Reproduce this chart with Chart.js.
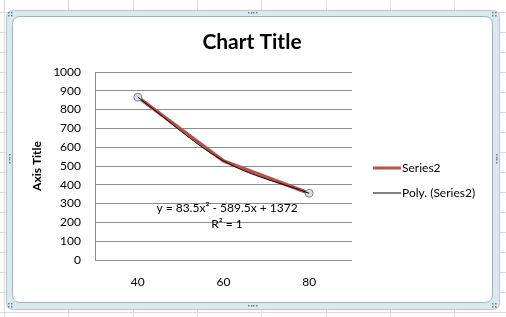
<!DOCTYPE html>
<html>
<head>
<meta charset="utf-8">
<script src="https://cdn.jsdelivr.net/npm/chart.js@4"></script>
<style>
html,body{margin:0;padding:0;background:#fff;}
#wrap{width:506px;height:317px;position:relative;}
</style>
</head>
<body>
<div id="wrap"><canvas id="c" width="506" height="317"></canvas></div>
<script>
// ---- data ----
const categories = ['40', '60', '80'];
const series2Values = [866, 527, 355];
const polyTrendValues = [866, 527, 355];
const yTickMin = 0;
const yTickMax = 1000;
const yTickStep = 100;
const chartTitle = 'Chart Title';
const yAxisTitle = 'Axis Title';
const seriesName = 'Series2';
const trendName = 'Poly. (Series2)';
const equationText = 'y = 83.5x\u00B2 - 589.5x + 1372';
const r2Text = 'R\u00B2 = 1';

const FONT = 'Lato, "Open Sans", sans-serif';

function roundRect(ctx, x, y, w, h, r) {
  ctx.beginPath();
  ctx.moveTo(x + r, y);
  ctx.lineTo(x + w - r, y);
  ctx.quadraticCurveTo(x + w, y, x + w, y + r);
  ctx.lineTo(x + w, y + h - r);
  ctx.quadraticCurveTo(x + w, y + h, x + w - r, y + h);
  ctx.lineTo(x + r, y + h);
  ctx.quadraticCurveTo(x, y + h, x, y + h - r);
  ctx.lineTo(x, y + r);
  ctx.quadraticCurveTo(x, y, x + r, y);
  ctx.closePath();
}

const excelPlugin = {
  id: 'excelLook',
  beforeDraw(chart) {
    const ctx = chart.ctx;
    const W = chart.width, H = chart.height;
    ctx.save();
    ctx.fillStyle = '#ffffff';
    ctx.fillRect(0, 0, W, H);
    // spreadsheet grid
    ctx.strokeStyle = '#D9DCDF';
    ctx.lineWidth = 1;
    for (let x = 4; x < W; x += 64.3) {
      ctx.beginPath(); ctx.moveTo(Math.round(x) + 0.5, 0); ctx.lineTo(Math.round(x) + 0.5, H); ctx.stroke();
    }
    for (let y = 12; y < H; y += 20) {
      ctx.beginPath(); ctx.moveTo(0, y + 0.5); ctx.lineTo(W, y + 0.5); ctx.stroke();
    }
    // frame band
    roundRect(ctx, 6.5, 10.5, 493, 299, 7);
    ctx.fillStyle = '#DAE9ED';
    ctx.fill();
    ctx.strokeStyle = '#B4C8CE';
    ctx.stroke();
    roundRect(ctx, 12.5, 16.5, 480, 286, 8);
    ctx.fillStyle = '#ffffff';
    ctx.fill();
    ctx.strokeStyle = '#9DB3BA';
    ctx.stroke();
    // handles
    ctx.fillStyle = '#6F7F86';
    const dotsH = (cx, cy) => { for (let i = -1.5; i <= 1.5; i++) ctx.fillRect(Math.round(cx + i * 2.5), cy, 1.5, 1.5); };
    const dotsV = (cx, cy) => { for (let i = -1.5; i <= 1.5; i++) ctx.fillRect(cx, Math.round(cy + i * 2.5), 1.5, 1.5); };
    dotsH(252, 12); dotsH(252, 305);
    dotsV(9, 158); dotsV(496, 158);
    const corner = (cx, cy) => { ctx.fillRect(cx, cy, 1.5, 1.5); ctx.fillRect(cx + 3, cy, 1.5, 1.5); ctx.fillRect(cx, cy + 3, 1.5, 1.5); ctx.fillRect(cx + 3, cy + 3, 1.5, 1.5); };
    corner(8, 12); corner(492, 12); corner(8, 303); corner(492, 303);
    ctx.restore();
  },
  afterDraw(chart) {
    const ctx = chart.ctx;
    ctx.save();
    // title
    ctx.fillStyle = '#000';
    ctx.font = 'bold 21px ' + FONT;
    ctx.textAlign = 'center';
    ctx.textBaseline = 'middle';
    ctx.fillText(chartTitle, 252, 42);
    // trendline equation
    ctx.font = '12px ' + FONT;
    ctx.fillText(equationText, 227, 208);
    ctx.fillText(r2Text, 227, 224);
    // legend
    const ds = chart.data.datasets;
    const items = [
      { ds: ds[1], y: 168 },
      { ds: ds[0], y: 193 }
    ];
    ctx.textAlign = 'left';
    items.forEach(it => {
      ctx.strokeStyle = it.ds.borderColor;
      ctx.lineWidth = it.ds.legendLineWidth;
      ctx.beginPath();
      ctx.moveTo(373, it.y);
      ctx.lineTo(401, it.y);
      ctx.stroke();
      ctx.fillStyle = '#000';
      ctx.fillText(it.ds.label, 402, it.y);
    });
    ctx.restore();
  }
};

new Chart(document.getElementById('c'), {
  type: 'line',
  data: {
    labels: categories,
    datasets: [
      {
        label: trendName,
        data: polyTrendValues,
        borderColor: '#000000',
        borderWidth: 1,
        legendLineWidth: 1,
        pointRadius: 0,
        cubicInterpolationMode: 'monotone',
        fill: false,
        order: 0
      },
      {
        label: seriesName,
        data: series2Values,
        borderColor: '#B5524E',
        borderWidth: 3.5,
        legendLineWidth: 3,
        tension: 0,
        pointRadius: (c) => (c.dataIndex === 0 || c.dataIndex === c.dataset.data.length - 1) ? 4 : 0,
        pointBackgroundColor: '#D6DEE6',
        pointBorderColor: '#7D8A96',
        pointBorderWidth: 1,
        fill: false,
        order: 1
      }
    ]
  },
  options: {
    responsive: false,
    animation: false,
    devicePixelRatio: 1,
    layout: { padding: { top: 72, right: 154, bottom: 0, left: 0 } },
    plugins: {
      legend: { display: false },
      title: { display: false },
      tooltip: { enabled: false }
    },
    scales: {
      x: {
        type: 'category',
        offset: true,
        grid: { display: false, drawTicks: false },
        border: { display: false },
        ticks: { color: '#000', font: { family: FONT, size: 12 }, padding: 15, maxRotation: 0 },
        afterFit(s) { s.height = 57; }
      },
      y: {
        min: yTickMin,
        max: yTickMax,
        ticks: { stepSize: yTickStep, color: '#000', font: { family: FONT, size: 12 }, padding: 14, callback: (v) => String(v) },
        grid: { color: '#8C8C8C', lineWidth: 1, drawTicks: false },
        border: { display: true, color: '#8C8C8C' },
        title: { display: true, text: yAxisTitle, color: '#000', font: { family: FONT, size: 12, weight: 'bold' }, padding: { top: 30, bottom: 0 } },
        afterFit(s) { s.width = 95; }
      }
    }
  },
  plugins: [excelPlugin]
});
</script>
</body>
</html>
